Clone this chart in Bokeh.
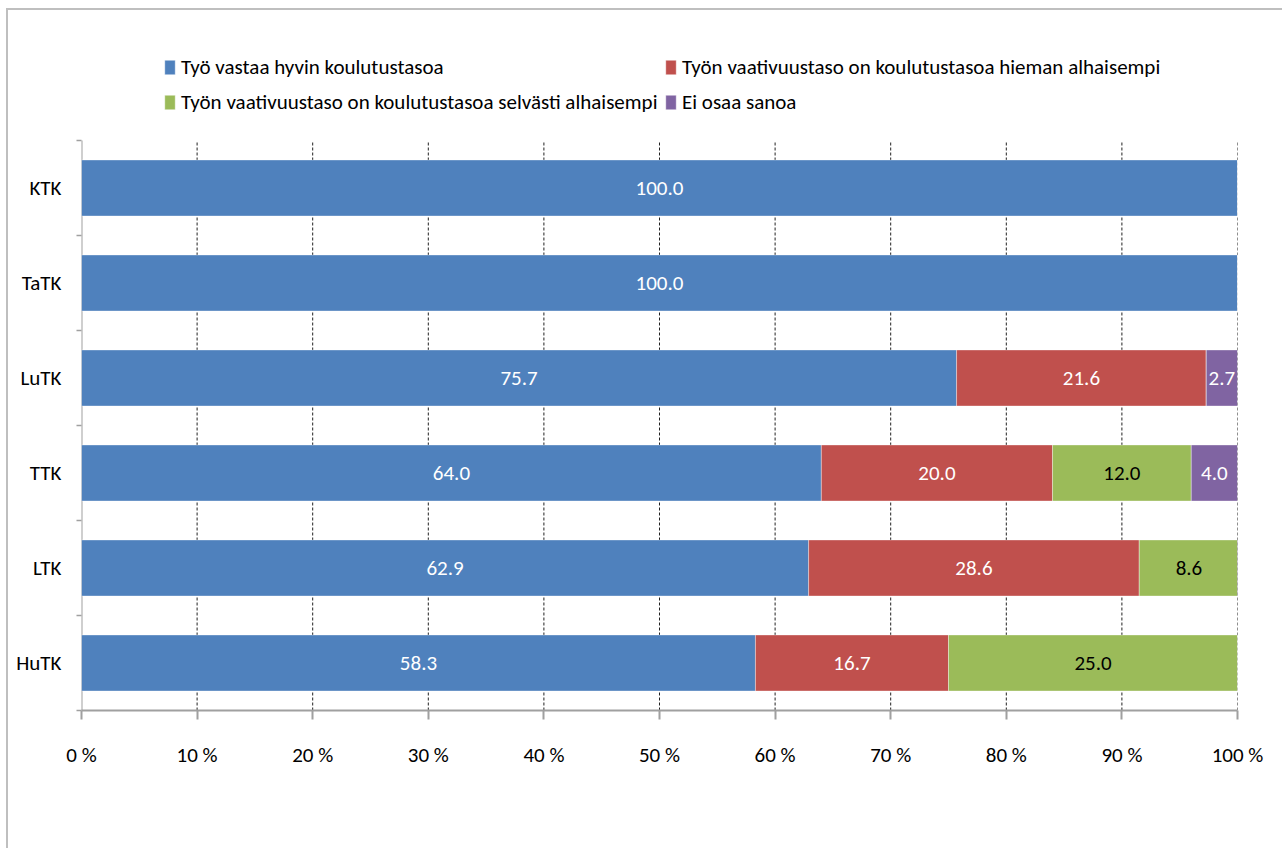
from bokeh.plotting import figure
from bokeh.models import ColumnDataSource, FixedTicker, Legend, LegendItem, Range1d
from bokeh.core.properties import value
from bokeh.embed import file_html
from bokeh.resources import INLINE

categories = ["KTK", "TaTK", "LuTK", "TTK", "LTK", "HuTK"]
series_names = [
    "Työ vastaa hyvin koulutustasoa",
    "Työn vaativuustaso on koulutustasoa hieman alhaisempi",
    "Työn vaativuustaso on koulutustasoa selvästi alhaisempi",
    "Ei osaa sanoa",
]
s_hyvin = [100.0, 100.0, 75.7, 64.0, 62.9, 58.3]
s_hieman = [0.0, 0.0, 21.6, 20.0, 28.6, 16.7]
s_selvasti = [0.0, 0.0, 0.0, 12.0, 8.6, 25.0]
s_eos = [0.0, 0.0, 2.7, 4.0, 0.0, 0.0]
x_ticks = [0, 10, 20, 30, 40, 50, 60, 70, 80, 90, 100]
x_tick_labels = ["0 %", "10 %", "20 %", "30 %", "40 %", "50 %", "60 %", "70 %", "80 %", "90 %", "100 %"]

colors = ["#4F81BD", "#C0504D", "#9BBB59", "#8064A2"]
label_colors = ["white", "white", "black", "white"]
FONT = "Carlito"
AXIS_GRAY = "#A0A0A0"

n = len(categories)
ypos = [n - 0.5 - i for i in range(n)]

frame_css = {
    "background-image": "linear-gradient(#BFBFBF,#BFBFBF), linear-gradient(#BFBFBF,#BFBFBF)",
    "background-size": "2px 100%, 100% 2px",
    "background-position": "6px 8px, 6px 8px",
    "background-repeat": "no-repeat",
}

p = figure(width=1282, height=848, output_backend="svg", toolbar_location=None,
           x_range=Range1d(0, 100), y_range=Range1d(0, n + 1),
           min_border_left=81, min_border_right=45, min_border_top=45, min_border_bottom=138,
           styles=frame_css)
p.background_fill_color = "white"
p.border_fill_alpha = 0
p.outline_line_color = None
p.grid.grid_line_color = None

# dashed vertical gridlines over the category area only
p.segment(x0=x_ticks[1:], x1=x_ticks[1:], y0=[0] * 10, y1=[n] * 10,
          line_color="#202020", line_dash="3 2", line_width=1)
# category axis line
p.segment(x0=[0], x1=[0], y0=[0], y1=[n], line_color=AXIS_GRAY, line_width=2)

all_series = [s_hyvin, s_hieman, s_selvasti, s_eos]
left = [0.0] * n
renderers = []
for k, vals in enumerate(all_series):
    lefts = list(left)
    rights = [l + v for l, v in zip(lefts, vals)]
    src = ColumnDataSource(dict(y=ypos, left=lefts, right=rights))
    r = p.hbar(y="y", left="left", right="right", height=0.59, source=src,
               fill_color=colors[k], line_color="white", line_width=0.6, line_alpha=0.6)
    renderers.append(r)
    idx = [i for i in range(n) if vals[i] > 0]
    tsrc = ColumnDataSource(dict(
        x=[(lefts[i] + rights[i]) / 2 for i in idx],
        y=[ypos[i] for i in idx],
        t=["%.1f" % vals[i] for i in idx],
    ))
    p.text(x="x", y="y", text="t", source=tsrc, text_color=label_colors[k],
           text_align="center", text_baseline="middle", text_font_size="21px",
           text_font=value(FONT))
    left = rights

xa = p.xaxis[0]
xa.ticker = FixedTicker(ticks=x_ticks)
xa.major_label_overrides = {t: l for t, l in zip(x_ticks, x_tick_labels)}
xa.axis_line_color = AXIS_GRAY
xa.axis_line_width = 2
xa.major_tick_line_color = AXIS_GRAY
xa.major_tick_line_width = 2
xa.major_tick_out = 9
xa.major_tick_in = 0
xa.minor_tick_line_color = None
xa.major_label_standoff = 22
xa.major_label_text_font_size = "21px"
xa.major_label_text_font = FONT
xa.major_label_text_color = "black"

ya = p.yaxis[0]
ya.ticker = FixedTicker(ticks=ypos, minor_ticks=list(range(n + 1)))
ya.major_label_overrides = {y: c for y, c in zip(ypos, categories)}
ya.axis_line_color = None
ya.major_tick_line_color = None
ya.major_tick_out = 0
ya.major_tick_in = 0
ya.minor_tick_line_color = AXIS_GRAY
ya.minor_tick_line_width = 1.5
ya.minor_tick_out = 5
ya.minor_tick_in = 0
ya.major_label_standoff = 15
ya.major_label_text_font_size = "21px"
ya.major_label_text_font = FONT
ya.major_label_text_color = "black"

legend = Legend(
    items=[LegendItem(label=series_names[k], renderers=[renderers[k]]) for k in range(4)],
    orientation="horizontal", ncols=2, location=(82, 593),
    glyph_width=13, glyph_height=18, label_standoff=5, spacing=5,
    padding=0, margin=0, border_line_color=None, background_fill_alpha=0,
    label_text_font_size="21px", label_text_font=FONT, label_text_color="black",
    label_height=30, label_width=478,
)
p.add_layout(legend, "center")

open("out.html", "w").write(file_html(p, INLINE))
